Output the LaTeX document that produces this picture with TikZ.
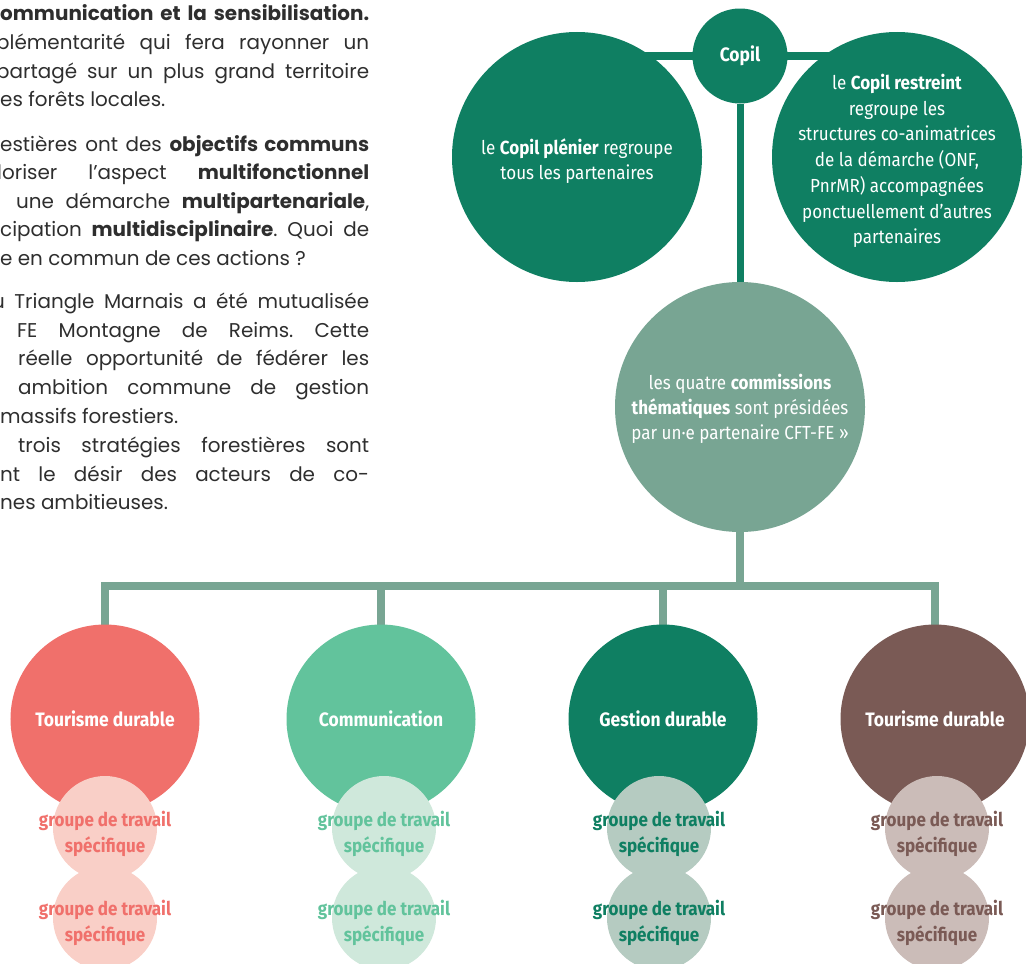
\documentclass[tikz,border=0pt]{standalone}
\usepackage{fontspec}
\setmainfont{Poppins}
\newfontfamily\circfont{Fira Sans}[FakeStretch=0.9]
\usetikzlibrary{backgrounds}
\frenchspacing

\definecolor{ink}{HTML}{2E2E2E}
\definecolor{copilgreen}{HTML}{0F7F62}
\definecolor{sage}{HTML}{78A593}
\definecolor{tourred}{HTML}{F0706B}
\definecolor{tourpink}{HTML}{F9CFC7}
\definecolor{commint}{HTML}{62C39C}
\definecolor{commlight}{HTML}{CFE8DB}
\definecolor{gestlight}{HTML}{B5CBC1}
\definecolor{tourbrown}{HTML}{7A5A55}
\definecolor{brownlight}{HTML}{CBBCB8}

\tikzset{
  bubble/.style={circle, inner sep=0pt, align=center, text=white,
    font=\circfont\fontsize{19}{25.5}\selectfont},
  bubtext/.style={inner sep=0pt, align=center, text=white,
    font=\circfont\fontsize{19}{25.8}\selectfont},
  theme/.style={bubble, minimum size=189bp,
    font=\circfont\bfseries\fontsize{19.5}{22}\selectfont},
  groupe/.style={circle, inner sep=0pt, minimum size=104bp},
  grtext/.style={inner sep=0pt, align=center,
    font=\circfont\bfseries\fontsize{19}{25.5}\selectfont},
  para/.style={anchor=base west, inner sep=0pt, text=ink,
    font=\fontsize{20}{28}\selectfont},
  link/.style={line width=8bp, draw=copilgreen},
  tree/.style={line width=8bp, draw=sage},
}

\begin{document}
\begin{tikzpicture}[x=1bp, y=-1bp]
  \useasboundingbox (0,0) rectangle (1026,964);
  \clip (0,0) rectangle (1026,964);

  % texte courant, coupe a gauche
  \node[para] (L1) at (0,20) {\makebox[369bp][s]{\textbf{ommunication et la sensibilisation.}}};
  \node[para] (L2) at (-4,49) {\makebox[373bp][s]{plémentarité qui fera rayonner un}};
  \node[para] (L3) at (-4,78) {\makebox[373bp][s]{partagé sur un plus grand territoire}};
  \node[para] (L4) at (0,106) {es forêts locales.};
  \node[para] (L5) at (0,151) {\makebox[369bp][s]{estières ont des \textbf{objectifs communs}}};
  \node[para] (L6) at (-3,179) {\makebox[372bp][s]{loriser l’aspect \textbf{multifonctionnel}}};
  \node[para] (L7) at (16,208) {\makebox[353bp][s]{une démarche \textbf{multipartenariale},}};
  \node[para] (L8) at (0,236) {\makebox[369bp][s]{cipation \textbf{multidisciplinaire}. Quoi de}};
  \node[para] (L9) at (0,265) {e en commun de ces actions~?};
  \node[para] (L10) at (-8,308) {\makebox[377bp][s]{u Triangle Marnais a été mutualisée}};
  \node[para] (L11) at (17,337) {\makebox[352bp][s]{FE Montagne de Reims. Cette}};
  \node[para] (L12) at (18,365) {\makebox[351bp][s]{réelle opportunité de fédérer les}};
  \node[para] (L13) at (18,394) {\makebox[351bp][s]{ambition commune de gestion}};
  \node[para] (L14) at (0,423) {massifs forestiers.};
  \node[para] (L15) at (18,452) {\makebox[351bp][s]{trois stratégies forestières sont}};
  \node[para] (L16) at (0,481) {\makebox[369bp][s]{nt le désir des acteurs de co-}};
  \node[para] (L17) at (0,509) {nes ambitieuses.};

  % copil
  \node[bubble, fill=copilgreen, minimum size=250bp] (Plen) at (577,157) {};
  \node[bubtext] (PlenTxt) at (577,161) {le \textbf{Copil plénier} regroupe\\tous les partenaires};
  \node[bubble, fill=copilgreen, minimum size=250bp] (Restr) at (897,157) {};
  \node[bubtext] (RestrTxt) at (897,161) {le \textbf{Copil restreint}\\regroupe les\\structures co-animatrices\\de la démarche (ONF,\\PnrMR) accompagnées\\ponctuellement d’autres\\partenaires};
  \node[bubble, fill=copilgreen, minimum size=95bp,
    font=\circfont\bfseries\fontsize{19.5}{22}\selectfont] (Copil) at (740,56) {Copil};

  % commissions
  \node[bubble, fill=sage, minimum size=250bp, font=\circfont\fontsize{19}{25}\selectfont] (Comm) at (740,407) {};
  \node[bubtext, font=\circfont\fontsize{19}{25}\selectfont] (CommTxt) at (740,409)
    {les quatre \textbf{commissions}\\\textbf{thématiques} sont présidées\\par un·e partenaire CFT-FE »};

  \node[theme, fill=tourred] (T1) at (105,719) {Tourisme durable};
  \node[theme, fill=commint] (T2) at (381,719) {Communication};
  \node[theme, fill=copilgreen] (T3) at (663,719) {Gestion durable};
  \node[theme, fill=tourbrown] (T4) at (935,719) {Tourisme durable};

  % groupes de travail
  \node[groupe, fill=tourpink] (G1a) at (105,828) {};
  \node[groupe, fill=tourpink] (G1b) at (105,918) {};
  \node[grtext, text=tourred] (G1aTxt) at (105,834) {groupe de travail\\spécifique};
  \node[grtext, text=tourred] (G1bTxt) at (105,923) {groupe de travail\\spécifique};

  \node[groupe, fill=commlight] (G2a) at (384,828) {};
  \node[groupe, fill=commlight] (G2b) at (384,918) {};
  \node[grtext, text=commint] (G2aTxt) at (384,834) {groupe de travail\\spécifique};
  \node[grtext, text=commint] (G2bTxt) at (384,923) {groupe de travail\\spécifique};

  \node[groupe, fill=gestlight] (G3a) at (659,828) {};
  \node[groupe, fill=gestlight] (G3b) at (659,918) {};
  \node[grtext, text=copilgreen] (G3aTxt) at (659,834) {groupe de travail\\spécifique};
  \node[grtext, text=copilgreen] (G3bTxt) at (659,923) {groupe de travail\\spécifique};

  \node[groupe, fill=brownlight] (G4a) at (937,828) {};
  \node[groupe, fill=brownlight] (G4b) at (937,918) {};
  \node[grtext, text=tourbrown] (G4aTxt) at (937,834) {groupe de travail\\spécifique};
  \node[grtext, text=tourbrown] (G4bTxt) at (937,923) {groupe de travail\\spécifique};

  \begin{scope}[on background layer]
    \draw[link] (Copil -| Plen) -- (Copil -| Restr);
    \draw[link, line width=7bp] (Copil) -- (Comm);
    \coordinate (Fork) at (738,586);
    \draw[tree] (Comm.south) -- (Comm.south |- Fork);
    \draw[tree] (T1.center) |- (Fork) -| (T4.center);
    \draw[tree] (T2.center) -- (T2 |- Fork);
    \draw[tree] (T3.center) -- (T3 |- Fork);
  \end{scope}
\end{tikzpicture}
\end{document}
